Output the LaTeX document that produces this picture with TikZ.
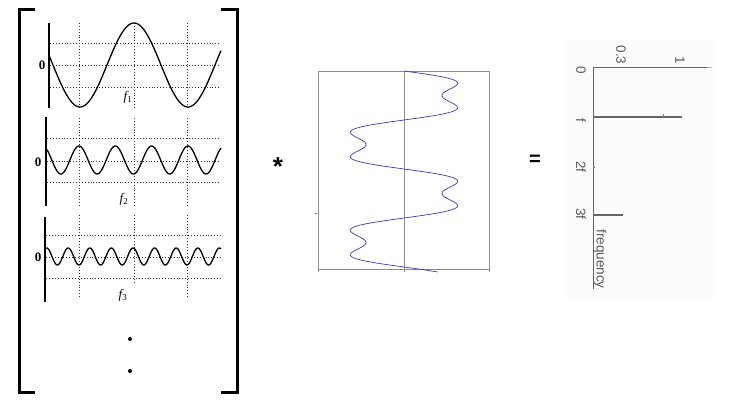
\documentclass[tikz,border=0pt]{standalone}
\usepackage{fontspec}
\setmainfont{Liberation Serif}
\newfontfamily\spfont{Liberation Sans}
\begin{document}
\begin{tikzpicture}[x=1pt,y=-1pt,
  brk/.style={line width=3pt,line cap=rect},
  axbar/.style={line width=2.4pt},
  grd/.style={dotted,line width=0.9pt,black!80},
  wave/.style={line width=1.3pt,black},
  zero/.style={font=\fontsize{13}{13}\selectfont\bfseries,inner sep=0pt},
  flab/.style={font=\fontsize{13}{13}\selectfont\itshape,inner sep=0pt},
  bx/.style={line width=0.6pt,black!45},
  splab/.style={font=\spfont\fontsize{13.5}{14}\selectfont,text=black!65,rotate=-90,inner sep=0pt},
  spline/.style={line width=1pt,black!60},
  spbar/.style={line width=2pt,black!60}]
\useasboundingbox (0,0) rectangle (740,417);
% brackets
\draw[brk] (33,10) -- (19,10) -- (19,392) -- (33,392);
\draw[brk] (222,10) -- (237,10) -- (237,392) -- (222,392);
% panel 1
\foreach \yy in {43,65,87} \draw[grd] (50,\yy) -- (221,\yy);
\foreach \xx in {79,134,187} \draw[grd] (\xx,23) -- (\xx,108);
\draw[axbar] (49,23) -- (49,108);
\draw[wave] plot[domain=49:221,samples=200,smooth] (\x,{65-42*cos(3.3333*(\x-134))});
\node[zero] (z1) at (42,65) {0};
\node[flab] (f1) at (128,97) {f\textsubscript{\upshape 1}};
% panel 2
\foreach \yy in {138,161,182} \draw[grd] (47,\yy) -- (221,\yy);
\foreach \xx in {79,134,187} \draw[grd] (\xx,118) -- (\xx,206);
\draw[axbar] (46,117) -- (46,206);
\draw[wave] plot[domain=47:221,samples=250,smooth] (\x,{160-14*cos(9.9174*(\x-79))});
\node[zero] (z2) at (38,162) {0};
\node[flab] (f2) at (124,199) {f\textsubscript{\upshape 2}};
% panel 3
\foreach \yy in {235,257,278} \draw[grd] (46,\yy) -- (221,\yy);
\foreach \xx in {79,187} \draw[grd] (\xx,215) -- (\xx,298);
\draw[grd] (134,215) -- (134,283);
\draw[axbar] (45,217) -- (45,302);
\draw[wave] plot[domain=46:221,samples=300,smooth] (\x,{256.5-8.5*cos(16.6667*(\x-133))});
\node[zero] (z3) at (38,257) {0};
\node[flab] (f3) at (123,295) {f\textsubscript{\upshape 3}};
% dots
\fill (130,339) circle (2);
\fill (130,371) circle (2);
% operators
\node[font=\spfont\bfseries\fontsize{26}{26}\selectfont,inner sep=0pt] (star) at (278,167) {*};
\node[font=\spfont\bfseries\fontsize{20}{20}\selectfont,inner sep=0pt] (eq) at (535,160) {=};
% time-domain box
\draw[bx] (318,71) rectangle (489,269);
\draw[bx] (404,71) -- (404,272);
\draw[bx] (318,269) -- (318,272);
\draw[bx] (489,269) -- (489,272);
\draw[bx] (315,213) -- (317,213);
\draw[line width=0.7pt,color={rgb,255:red,60;green,60;blue,170}] plot[domain=71:272,samples=300,smooth,variable=\t] ({404+57*(sin(3.6735*(\t-71))+sin(11.0204*(\t-71))/3)},\t);
% spectrum
\fill[black!1] (565,40) rectangle (715,298);
\draw[spline] (593,68) -- (593,289);
\draw[spline] (593,68) -- (707,68);
\draw[line width=1pt,black!30] (707,68) -- (712,68);
\draw[spbar] (593,117) -- (682,117);
\draw[spbar] (593,215) -- (623,215);
\draw[line width=0.5pt,black!50] (663,114) -- (663,117);
\draw[line width=0.5pt,black!50] (593,167) -- (595,167);
\node[splab] (s0) at (581,70) {0};
\node[splab] (s1) at (581,120) {f};
\node[splab] (s2) at (581,167) {2f};
\node[splab] (s3) at (581,214) {3f};
\node[splab] (a03) at (621,55) {0.3};
\node[splab] (a1) at (680,60) {1};
\node[splab] (fq) at (600,259) {frequency};
\end{tikzpicture}
\end{document}
